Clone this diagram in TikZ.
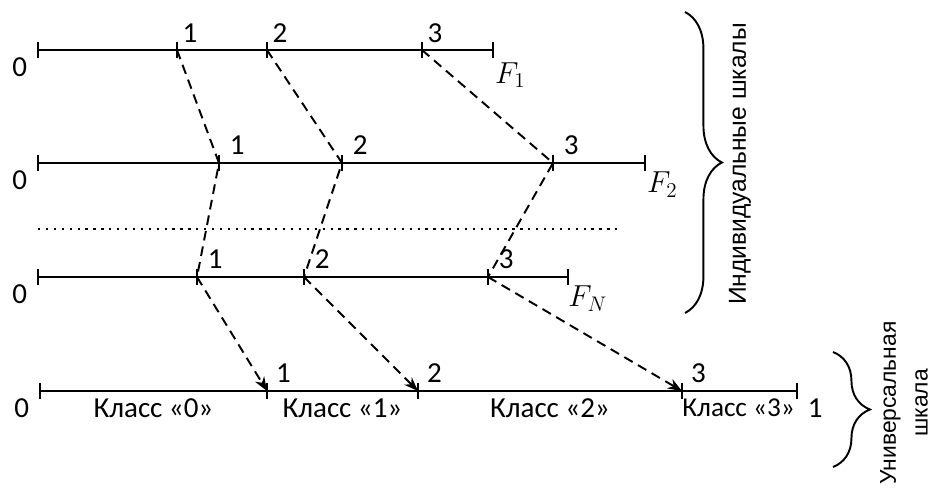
\documentclass[tikz,border=0pt]{standalone}
\usepackage{fontspec}
\setmainfont{Carlito}
\newfontfamily\sidefont{Liberation Sans}
\usetikzlibrary{arrows.meta,decorations.pathreplacing}
\tikzset{
  scl/.style={line width=1.5pt},
  tk/.style={line width=1.4pt},
  link/.style={line width=1.1pt, dash pattern=on 5.5pt off 3.5pt},
  num/.style={font=\fontsize{16.5}{18}\selectfont, inner sep=0pt},
  fname/.style={font=\fontsize{17}{19}\selectfont, inner sep=0pt, anchor=north west},
  cls/.style={font=\fontsize{16.5}{18}\selectfont, inner sep=0pt, anchor=north, yshift=-4pt},
  brc/.style={line width=1.1pt, decorate, decoration={brace, amplitude=21pt}},
}

\begin{document}
\begin{tikzpicture}[x=0.02cm, y=-0.02cm]
\useasboundingbox (0,0) rectangle (931,489);
% scale F1
\coordinate (f1-0) at (38,50);
\coordinate (f1-1) at (177,50);
\coordinate (f1-2) at (267,50);
\coordinate (f1-3) at (422,50);
\coordinate (f1-e) at (493,50);
\draw[scl] (f1-0) -- (f1-e);
\draw[tk] (f1-0) ++(0,-8) -- ++(0,16);
\draw[tk] (f1-1) ++(0,-8) -- ++(0,16);
\draw[tk] (f1-2) ++(0,-8) -- ++(0,16);
\draw[tk] (f1-3) ++(0,-8) -- ++(0,16);
\draw[tk] (f1-e) ++(0,-8) -- ++(0,16);
\node[num, anchor=north east] (f1-z) at ([xshift=-6pt,yshift=-4pt]f1-0) {0};
\node[num, anchor=south west] (f1-l1) at ([xshift=3pt,yshift=4pt]f1-1) {1};
\node[num, anchor=south west] (f1-l2) at ([xshift=3pt,yshift=4pt]f1-2) {2};
\node[num, anchor=south west] (f1-l3) at ([xshift=3pt,yshift=4pt]f1-3) {3};
\node[fname] (f1-n) at ([xshift=1pt,yshift=-7pt]f1-e) {$F_1$};
% scale F2
\coordinate (f2-0) at (38,163);
\coordinate (f2-1) at (219,163);
\coordinate (f2-2) at (342,163);
\coordinate (f2-3) at (553,163);
\coordinate (f2-e) at (645,163);
\draw[scl] (f2-0) -- (f2-e);
\draw[tk] (f2-0) ++(0,-8) -- ++(0,16);
\draw[tk] (f2-1) ++(0,-8) -- ++(0,16);
\draw[tk] (f2-2) ++(0,-8) -- ++(0,16);
\draw[tk] (f2-3) ++(0,-8) -- ++(0,16);
\draw[tk] (f2-e) ++(0,-8) -- ++(0,16);
\node[num, anchor=north east] (f2-z) at ([xshift=-6pt,yshift=-4pt]f2-0) {0};
\node[num, anchor=south west] (f2-l1) at ([xshift=6pt,yshift=4.5pt]f2-1) {1};
\node[num, anchor=south west] (f2-l2) at ([xshift=6pt,yshift=4.5pt]f2-2) {2};
\node[num, anchor=south west] (f2-l3) at ([xshift=6pt,yshift=4.5pt]f2-3) {3};
\node[fname] (f2-n) at ([xshift=1pt,yshift=-5pt]f2-e) {$F_2$};
% dots between
\coordinate (dt-a) at (38,229);
\coordinate (dt-b) at (622,229);
\draw[line width=1.2pt, dash pattern=on 1.3pt off 3.2pt] (dt-a) -- (dt-b);
% scale FN
\coordinate (fn-0) at (38,277);
\coordinate (fn-1) at (197,277);
\coordinate (fn-2) at (304,277);
\coordinate (fn-3) at (488,277);
\coordinate (fn-e) at (568,277);
\draw[scl] (fn-0) -- (fn-e);
\draw[tk] (fn-0) ++(0,-8) -- ++(0,16);
\draw[tk] (fn-1) ++(0,-8) -- ++(0,16);
\draw[tk] (fn-2) ++(0,-8) -- ++(0,16);
\draw[tk] (fn-3) ++(0,-8) -- ++(0,16);
\draw[tk] (fn-e) ++(0,-8) -- ++(0,16);
\node[num, anchor=north east] (fn-z) at ([xshift=-6pt,yshift=-4pt]fn-0) {0};
\node[num, anchor=south west] (fn-l1) at ([xshift=6pt,yshift=4.5pt]fn-1) {1};
\node[num, anchor=south west] (fn-l2) at ([xshift=6pt,yshift=4.5pt]fn-2) {2};
\node[num, anchor=south west] (fn-l3) at ([xshift=6pt,yshift=4.5pt]fn-3) {3};
\node[fname] (fn-n) at ([xshift=0pt,yshift=-5pt]fn-e) {$F_N$};
% universal scale
\coordinate (u-0) at (40,391);
\coordinate (u-1) at (267,391);
\coordinate (u-2) at (418,391);
\coordinate (u-3) at (682,391);
\coordinate (u-e) at (797,391);
\draw[scl] (u-0) -- (u-e);
\draw[tk] (u-0) ++(0,-8) -- ++(0,16);
\draw[tk] (u-1) ++(0,-8) -- ++(0,16);
\draw[tk] (u-2) ++(0,-8) -- ++(0,16);
\draw[tk] (u-3) ++(0,-8) -- ++(0,16);
\draw[tk] (u-e) ++(0,-8) -- ++(0,16);
\node[num, anchor=north east] (u-z) at ([xshift=-6pt,yshift=-4pt]u-0) {0};
\node[num, anchor=north west] (u-o) at ([xshift=6pt,yshift=-4pt]u-e) {1};
\node[num, anchor=south west] (u-l1) at ([xshift=5pt,yshift=4.5pt]u-1) {1};
\node[num, anchor=south west] (u-l2) at ([xshift=5pt,yshift=4.5pt]u-2) {2};
\node[num, anchor=south west] (u-l3) at ([xshift=5pt,yshift=4.5pt]u-3) {3};
\path (u-0) -- node[cls] (c0) {Класс «0»} (u-1);
\path (u-1) -- node[cls] (c1) {Класс «1»} (u-2);
\path (u-2) -- node[cls] (c2) {Класс «2»} (u-3);
\node[cls, anchor=north west, font=\fontsize{15.5}{18}\selectfont] (c3) at (u-3) {Класс «3»};
% links
\draw[link] (f1-1) -- (f2-1) -- (fn-1);
\draw[link] (f1-2) -- (f2-2) -- (fn-2);
\draw[link] (f1-3) -- (f2-3) -- (fn-3);
\draw[link, -{Stealth[length=8pt, width=6pt, inset=2.5pt]}] (fn-1) -- (u-1);
\draw[link, -{Stealth[length=8pt, width=6pt, inset=2.5pt]}] (fn-2) -- (u-2);
\draw[link, -{Stealth[length=8pt, width=6pt, inset=2.5pt]}] (fn-3) -- (u-3);
% braces
\coordinate (b1-a) at (685,12);
\coordinate (b1-b) at (685,313);
\draw[brc] (b1-a) -- (b1-b);
\node[rotate=90, inner sep=0pt, font=\sidefont\fontsize{14}{16}\selectfont] (ind) at (740,164) {Индивидуальные шкалы};
\coordinate (b2-a) at (833,352);
\coordinate (b2-b) at (833,467);
\draw[brc] (b2-a) -- (b2-b);
\node[rotate=90, inner sep=0pt, align=center, font=\sidefont\fontsize{13}{18}\selectfont] (uni) at (904,403) {Универсальная\\шкала};
\end{tikzpicture}
\end{document}
